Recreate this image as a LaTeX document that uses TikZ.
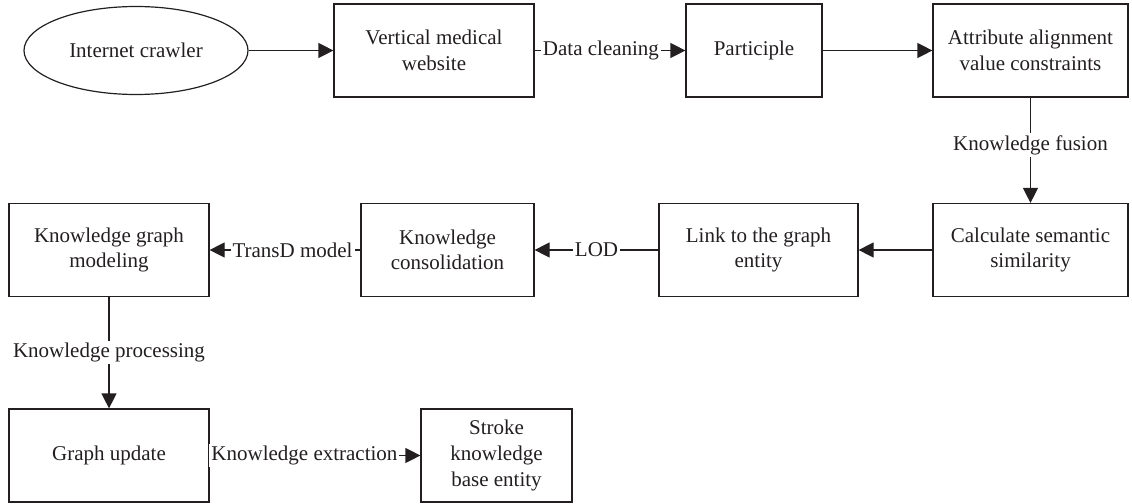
\documentclass[tikz,border=0pt]{standalone}
\usepackage{fontspec}
\setmainfont{Liberation Serif}
\usetikzlibrary{shapes.geometric,arrows.meta}
\definecolor{ink}{RGB}{35,31,32}
\tikzset{
  box/.style={draw=ink, rectangle, align=center, minimum height=46.5pt, inner sep=2pt, line width=0.6pt},
  arr/.style={draw=ink, line width=0.6pt, -{Triangle[length=7.5pt,width=7.5pt]}},
  lbl/.style={fill=white, inner sep=1pt, text=ink},
}
\begin{document}
\begin{tikzpicture}[x=0.5pt,y=-0.5pt,font=\fontsize{10.5}{12.8}\selectfont,text=ink]
\useasboundingbox (0,0) rectangle (1132,504);

\node[draw=ink, ellipse, line width=0.6pt, minimum width=112pt, minimum height=44pt] (crawl) at (136,50.5) {Internet crawler};
\node[box, minimum width=100pt] (site) at (434,50.5) {Vertical medical\\website};
\node[box, minimum width=68pt] (part) at (754,50.5) {Participle};
\node[box, minimum width=97.5pt] (attr) at (1030.5,50.5) {Attribute alignment\\value constraints};

\node[box, minimum width=97.5pt] (calc) at (1030.5,250) {Calculate semantic\\similarity};
\node[box, minimum width=99.5pt] (link) at (758.5,250) {Link to the graph\\entity};
\node[box, minimum width=86.5pt] (cons) at (447.5,250) {Knowledge\\consolidation};
\node[box, minimum width=100pt] (kgm) at (109,250) {Knowledge graph\\modeling};

\node[box, minimum width=100pt] (upd) at (109,455.5) {Graph update};
\node[box, minimum width=75.5pt] (stroke) at (496.5,455.5) {Stroke\\knowledge\\base entity};

\path[arr] (crawl) -- (site);
\path[arr] (site) -- node[lbl, pos=0.44] {Data cleaning} (part);
\path[arr] (part) -- (attr);
\path[arr] (attr) -- node[lbl, pos=0.45] {Knowledge fusion} (calc);
\path[arr] (calc) -- (link);
\path[arr] (link) -- node[lbl] {LOD} (cons);
\path[arr] (cons) -- node[lbl, pos=0.45] {TransD model} (kgm);
\path[arr] (kgm) -- node[lbl] {Knowledge processing} (upd);
\path[arr] (upd) -- node[lbl, pos=0.45] {Knowledge extraction} (stroke);
\end{tikzpicture}
\end{document}
